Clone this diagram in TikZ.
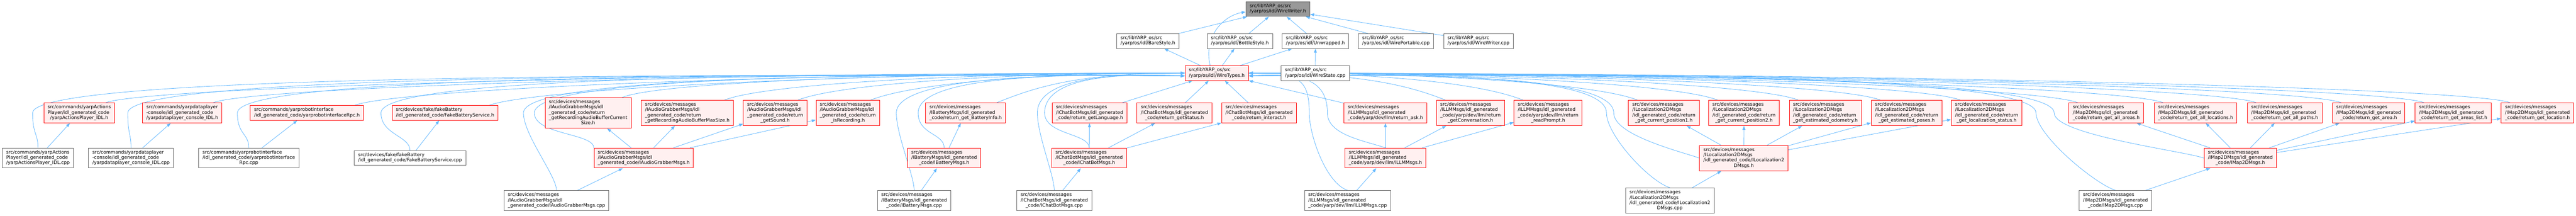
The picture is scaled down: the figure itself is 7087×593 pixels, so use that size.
\documentclass[tikz,border=0pt]{standalone}
\usepackage{fontspec}
\setmainfont{DejaVu Sans}
\usetikzlibrary{arrows.meta}
\usetikzlibrary{calc,backgrounds}

\definecolor{edgeblue}{HTML}{63B8FF}
\definecolor{hdrfill}{HTML}{FFF0F0}
\definecolor{rootfill}{HTML}{999999}
\definecolor{boxline}{HTML}{666666}

% label: left aligned lines, last line centred
\newcommand{\flab}[2]{\begin{tabular}{@{}l@{}}#1\\\multicolumn{1}{@{}c@{}}{#2}\end{tabular}}
\newcommand{\yos}[1]{\flab{src/libYARP\_os/src}{/yarp/os/idl/#1}}
\newcommand{\dm}{src/devices/messages}

\tikzset{
  filebox/.style={draw=boxline, fill=white, line width=1.3pt, inner xsep=10.5pt, inner ysep=5.6pt,
    font=\fontsize{12.85}{14.6}\selectfont},
  redbox/.style={filebox, draw=red, fill=hdrfill},
  rootbox/.style={filebox, fill=rootfill},
  dep/.style={draw=edgeblue, line width=1.2pt, ->},
}

\begin{document}
\begin{tikzpicture}[x=1pt, y=-1pt, >={Triangle[length=11pt,width=8pt]}]
\useasboundingbox (0,0) rectangle (7087,593);

% top of the graph
\node[rootbox] (wr) at (3515.5,25) {\yos{WireWriter.h}};
\node[filebox] (bare) at (3158,113) {\yos{BareStyle.h}};
\node[filebox] (bottle) at (3411,113) {\yos{BottleStyle.h}};
\node[filebox] (unwr) at (3619,113) {\yos{Unwrapped.h}};
\node[filebox] (wport) at (3840.5,113) {\yos{WirePortable.cpp}};
\node[filebox] (wwcpp) at (4067.5,113) {\yos{WireWriter.cpp}};
\node[redbox] (wt) at (3347.5,201) {\yos{WireTypes.h}};
\node[filebox] (wstate) at (3618.5,201) {\yos{WireState.cpp}};

% headers
\node[redbox] (aph) at (218,310.5) {\flab{src/commands/yarpActions\\Player/idl\_generated\_code}{/yarpActionsPlayer\_IDL.h}};
\node[redbox] (dch) at (501.5,310.5) {\flab{src/commands/yarpdataplayer\\-console/idl\_generated\_code}{/yarpdataplayer\_console\_IDL.h}};
\node[redbox] (rih) at (844.5,310.5) {\flab{src/commands/yarprobotinterface}{/idl\_generated\_code/yarprobotinterfaceRpc.h}};
\node[redbox] (fbh) at (1224.5,310.5) {\flab{src/devices/fake/fakeBattery}{/idl\_generated\_code/FakeBatteryService.h}};
\node[redbox] (agcur) at (1618,310.5) {\flab{\dm\\/IAudioGrabberMsgs/idl\\\_generated\_code/return\\\_getRecordingAudioBufferCurrent}{Size.h}};
\node[redbox] (agmax) at (1891,310.5) {\flab{\dm\\/IAudioGrabberMsgs/idl\\\_generated\_code/return}{\_getRecordingAudioBufferMaxSize.h}};
\node[redbox] (agsnd) at (2132.5,310.5) {\flab{\dm\\/IAudioGrabberMsgs/idl\\\_generated\_code/return}{\_getSound.h}};
\node[redbox] (agrec) at (2332.5,310.5) {\flab{\dm\\/IAudioGrabberMsgs/idl\\\_generated\_code/return}{\_isRecording.h}};
\node[redbox] (bti) at (2656.5,310.5) {\flab{\dm\\/IBatteryMsgs/idl\_generated}{\_code/return\_get\_BatteryInfo.h}};
\node[redbox] (cbl) at (2997.5,310.5) {\flab{\dm\\/IChatBotMsgs/idl\_generated}{\_code/return\_getLanguage.h}};
\node[redbox] (cbs) at (3231,310.5) {\flab{\dm\\/IChatBotMsgs/idl\_generated}{\_code/return\_getStatus.h}};
\node[redbox] (cbi) at (3464,310.5) {\flab{\dm\\/IChatBotMsgs/idl\_generated}{\_code/return\_interact.h}};
\node[redbox] (llask) at (3811.5,310.5) {\flab{\dm\\/ILLMMsgs/idl\_generated}{\_code/yarp/dev/llm/return\_ask.h}};
\node[redbox] (llconv) at (4045.5,310.5) {\flab{\dm\\/ILLMMsgs/idl\_generated\\\_code/yarp/dev/llm/return}{\_getConversation.h}};
\node[redbox] (llrp) at (4259,310.5) {\flab{\dm\\/ILLMMsgs/idl\_generated\\\_code/yarp/dev/llm/return}{\_readPrompt.h}};
\node[redbox] (lopos1) at (4577.5,310.5) {\flab{\dm\\/ILocalization2DMsgs\\/idl\_generated\_code/return}{\_get\_current\_position1.h}};
\node[redbox] (lopos2) at (4798,310.5) {\flab{\dm\\/ILocalization2DMsgs\\/idl\_generated\_code/return}{\_get\_current\_position2.h}};
\node[redbox] (loodo) at (5022,310.5) {\flab{\dm\\/ILocalization2DMsgs\\/idl\_generated\_code/return}{\_get\_estimated\_odometry.h}};
\node[redbox] (loposes) at (5245.5,310.5) {\flab{\dm\\/ILocalization2DMsgs\\/idl\_generated\_code/return}{\_get\_estimated\_poses.h}};
\node[redbox] (lostat) at (5465.5,310.5) {\flab{\dm\\/ILocalization2DMsgs\\/idl\_generated\_code/return}{\_get\_localization\_status.h}};
\node[redbox] (mpareas) at (5794.5,310.5) {\flab{\dm\\/IMap2DMsgs/idl\_generated}{\_code/return\_get\_all\_areas.h}};
\node[redbox] (mplocs) at (6040.5,310.5) {\flab{\dm\\/IMap2DMsgs/idl\_generated}{\_code/return\_get\_all\_locations.h}};
\node[redbox] (mppaths) at (6285.5,310.5) {\flab{\dm\\/IMap2DMsgs/idl\_generated}{\_code/return\_get\_all\_paths.h}};
\node[redbox] (mparea) at (6516.5,310.5) {\flab{\dm\\/IMap2DMsgs/idl\_generated}{\_code/return\_get\_area.h}};
\node[redbox] (mplist) at (6749,310.5) {\flab{\dm\\/IMap2DMsgs/idl\_generated}{\_code/return\_get\_areas\_list.h}};
\node[redbox] (mploc) at (6981,310.5) {\flab{\dm\\/IMap2DMsgs/idl\_generated}{\_code/return\_get\_location.h}};

% msgs headers and command sources
\node[filebox] (apc) at (104.5,434.5) {\flab{src/commands/yarpActions\\Player/idl\_generated\_code}{/yarpActionsPlayer\_IDL.cpp}};
\node[filebox] (dcc) at (360.5,434.5) {\flab{src/commands/yarpdataplayer\\-console/idl\_generated\_code}{/yarpdataplayer\_console\_IDL.cpp}};
\node[filebox] (ric) at (684.5,434.5) {\flab{src/commands/yarprobotinterface\\/idl\_generated\_code/yarprobotinterface}{Rpc.cpp}};
\node[filebox] (fbc) at (1128,434.5) {\flab{src/devices/fake/fakeBattery}{/idl\_generated\_code/FakeBatteryService.cpp}};
\node[redbox] (agh) at (1771,434.5) {\flab{\dm\\/IAudioGrabberMsgs/idl}{\_generated\_code/IAudioGrabberMsgs.h}};
\node[redbox] (bth) at (2597.5,434.5) {\flab{\dm\\/IBatteryMsgs/idl\_generated}{\_code/IBatteryMsgs.h}};
\node[redbox] (cbh) at (2996.5,434.5) {\flab{\dm\\/IChatBotMsgs/idl\_generated}{\_code/IChatBotMsgs.h}};
\node[redbox] (llh) at (3811.5,434.5) {\flab{\dm\\/ILLMMsgs/idl\_generated}{\_code/yarp/dev/llm/ILLMMsgs.h}};
\node[redbox] (loh) at (4797.5,434.5) {\flab{\dm\\/ILocalization2DMsgs\\/idl\_generated\_code/ILocalization2}{DMsgs.h}};
\node[redbox] (mph) at (6163.5,434.5) {\flab{\dm\\/IMap2DMsgs/idl\_generated}{\_code/IMap2DMsgs.h}};

% msgs sources
\node[filebox] (agc) at (1531,551.5) {\flab{\dm\\/IAudioGrabberMsgs/idl}{\_generated\_code/IAudioGrabberMsgs.cpp}};
\node[filebox] (btc) at (2515,551.5) {\flab{\dm\\/IBatteryMsgs/idl\_generated}{\_code/IBatteryMsgs.cpp}};
\node[filebox] (cbc) at (2900.5,551.5) {\flab{\dm\\/IChatBotMsgs/idl\_generated}{\_code/IChatBotMsgs.cpp}};
\node[filebox] (llc) at (3707.5,551.5) {\flab{\dm\\/ILLMMsgs/idl\_generated}{\_code/yarp/dev/llm/ILLMMsgs.cpp}};
\node[filebox] (loc) at (4594,551.5) {\flab{\dm\\/ILocalization2DMsgs\\/idl\_generated\_code/ILocalization2}{DMsgs.cpp}};
\node[filebox] (mpc) at (5820,551.5) {\flab{\dm\\/IMap2DMsgs/idl\_generated}{\_code/IMap2DMsgs.cpp}};

\begin{scope}[on background layer]
% direct includes
\foreach \a/\b in {bare/wr, bottle/wr, unwr/wr, wport/wr, wwcpp/wr, wt/bare, wt/bottle, wt/unwr, wstate/unwr,
  apc/aph, dcc/dch, ric/rih, fbc/fbh, agh/agcur, agh/agmax, agh/agsnd, agh/agrec, agc/agh,
  bth/bti, btc/bth, cbl/wt, cbs/wt, cbi/wt, cbh/cbl, cbh/cbs, cbh/cbi, cbc/cbh,
  llask/wt, llh/llask, llh/llconv, llh/llrp, llc/llh,
  loh/lopos1, loh/lopos2, loh/loodo, loh/loposes, loh/lostat, loc/loh,
  mph/mpareas, mph/mplocs, mph/mppaths, mph/mparea, mph/mplist, mph/mploc, mpc/mph}
  \draw[dep] (\a) -- (\b);
\draw[dep] (wt.131) .. controls +(-20,-80) and +(-60,10) .. (wr.185);

% long ones into WireTypes.h
\foreach \n in {aph,dch,rih,fbh,agcur,agmax,agsnd,agrec,bti}
  \draw[dep] ([xshift=-25]\n.north east) .. controls +(100,-40) and ($(wt.west)!.5!(\n.north |- wt.west)$) .. (wt.west);
\foreach \n in {llconv,llrp,lopos1,lopos2,loodo,loposes,lostat,mpareas,mplocs,mppaths,mparea,mplist,mploc}
  \draw[dep] ([xshift=25]\n.north west) .. controls +(-100,-40) and ($(wt.east)!.5!(\n.north |- wt.east)$) .. (wt.east);
\foreach \n/\a/\m/\s in {apc/north/aph/30, dcc/north/dch/40, ric/north/rih/35, fbc/north/fbh/30,
  agh/north west/agcur/29, agc/north/agcur/59, bth/north/bti/20, btc/north/bti/80, cbh/north/cbl/20, cbc/north/cbl/40}
  \draw[dep] (\n.\a) .. controls +(0,-40) and +(0,60) .. ([xshift=-\s]\m.west)
    .. controls +(0,-100) and ($(wt.west)!.5!(\m.west |- wt.west)$) .. (wt.185);
\foreach \n/\a/\m/\s in {llh/north/llask/45, llc/north/llask/95, loh/west/lopos1/40, loc/north/lopos1/60,
  mph/west/mpareas/40, mpc/north/mpareas/90}
  \draw[dep] (\n.\a) .. controls +(-60,-20) and +(0,60) .. ([xshift=-\s]\m.west)
    .. controls +(0,-100) and ($(wt.east)!.5!(\m.west |- wt.east)$) .. (wt.355);
\end{scope}
\end{tikzpicture}
\end{document}
